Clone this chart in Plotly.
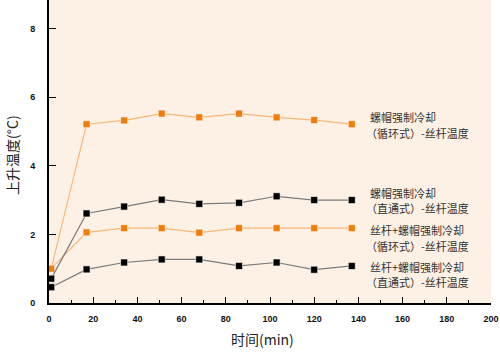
import plotly.graph_objects as go

time_min = [1, 17, 34, 51, 68, 86, 103, 120, 137]
nut_circ = [1.0, 5.21, 5.32, 5.52, 5.41, 5.52, 5.41, 5.33, 5.21]
nut_direct = [0.71, 2.61, 2.81, 3.01, 2.89, 2.92, 3.11, 3.0, 3.0]
both_circ = [1.0, 2.06, 2.18, 2.18, 2.05, 2.18, 2.18, 2.18, 2.18]
both_direct = [0.46, 0.98, 1.18, 1.27, 1.27, 1.08, 1.18, 0.97, 1.08]

label_lines = [
    ("螺帽强制冷却", 5.41, 0),
    ("（循环式）-丝杆温度", 4.94, -4),
    ("螺帽强制冷却", 3.20, 0),
    ("（直通式）-丝杆温度", 2.76, -4),
    ("丝杆+螺帽强制冷却", 2.12, 0),
    ("（循环式）-丝杆温度", 1.66, -4),
    ("丝杆+螺帽强制冷却", 1.05, 0),
    ("（直通式）-丝杆温度", 0.60, -4),
]

ORANGE_LINE = "#f7b77a"
ORANGE_MK = "#f07c0a"
GRAY_LINE = "#7a7a7a"

fig = go.Figure()
series = [
    (nut_circ, ORANGE_LINE, ORANGE_MK),
    (both_circ, ORANGE_LINE, ORANGE_MK),
    (nut_direct, GRAY_LINE, "#000000"),
    (both_direct, GRAY_LINE, "#000000"),
]
for ys, lc, mc in series:
    fig.add_trace(go.Scatter(
        x=time_min, y=ys, mode="lines+markers",
        line=dict(color=lc, width=1.2),
        marker=dict(symbol="square", size=7, color=mc, line=dict(width=0.6, color="#ffffff")),
        showlegend=False, hoverinfo="skip"))

for txt, yv, xs in label_lines:
    fig.add_annotation(x=145, y=yv, xref="x", yref="y", text=txt, showarrow=False,
                       xanchor="left", yanchor="middle", align="left", xshift=xs, borderpad=0,
                       font=dict(family="Noto Sans CJK SC", size=11, color="#333333"))

fig.add_annotation(x=0.482, y=-0.12, xref="paper", yref="paper", text="时间(min)",
                   showarrow=False, xanchor="center", yanchor="middle",
                   font=dict(family="Noto Sans CJK SC", size=14, color="#222222"))
fig.add_annotation(x=-0.085, y=0.49, xref="paper", yref="paper", text="上升温度(°C)",
                   textangle=-90, showarrow=False, xanchor="center", yanchor="middle",
                   font=dict(family="Noto Sans CJK SC", size=14, color="#222222"))

fig.update_layout(
    width=500, height=352,
    margin=dict(l=49, r=9, t=0, b=49),
    paper_bgcolor="#ffffff", plot_bgcolor="#fdf1e5",
    font=dict(family="Liberation Sans", size=9, color="#111111"),
)
fig.update_xaxes(range=[0, 200], tickvals=[0, 20, 40, 60, 80, 100, 120, 140, 160, 180, 200],
                 ticktext=["<b>%d</b>" % v for v in [0, 20, 40, 60, 80, 100, 120, 140, 160, 180, 200]],
                 ticks="inside", ticklen=6, tickwidth=1.2, tickcolor="#000",
                 minor=dict(dtick=10, ticks="inside", ticklen=3, tickcolor="#000", tickwidth=1),
                 showline=True, linecolor="#000", linewidth=2, showgrid=False, zeroline=False,
                 ticklabelstandoff=6)
fig.update_yaxes(range=[0, 8.83], tickvals=[0, 2, 4, 6, 8],
                 ticktext=["<b>%d</b>" % v for v in [0, 2, 4, 6, 8]],
                 ticks="inside", ticklen=7, tickwidth=1.2, tickcolor="#000",
                 showline=True, linecolor="#000", linewidth=2, showgrid=False, zeroline=False,
                 ticklabelstandoff=10)

fig.write_html("out.html")
